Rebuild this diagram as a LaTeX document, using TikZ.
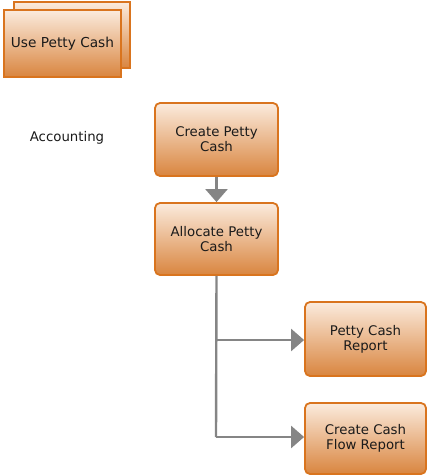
\documentclass[tikz,border=0pt]{standalone}
\usepackage{fontspec}
\setmainfont{DejaVu Sans}
\usetikzlibrary{arrows.meta}
\definecolor{bord}{HTML}{D9741E}
\definecolor{topc}{HTML}{FBEBDD}
\definecolor{botc}{HTML}{D9853F}
\definecolor{linec}{HTML}{858585}
\definecolor{txt}{HTML}{1A1A1A}
\tikzset{
  box/.style={draw=bord, line width=1.8pt, rounded corners=5pt, top color=topc, bottom color=botc, align=center, text=txt, font=\fontsize{13.3}{15}\selectfont, inner sep=0pt},
  flatbox/.style={draw=bord, line width=1.8pt, top color=topc, bottom color=botc, align=center, text=txt, font=\fontsize{13.7}{15}\selectfont, inner sep=0pt},
  conn/.style={draw=linec, line width=2.4pt, -{Triangle[width=22pt,length=13pt]}},
  plain/.style={draw=linec, line width=2.4pt}
}
\begin{document}
\begin{tikzpicture}[x=1pt,y=-1pt]
\useasboundingbox (0,0) rectangle (426,476);
% Use Petty Cash stack
\node[flatbox, minimum width=116pt, minimum height=66pt] (back) at (72,35) {};
\node[flatbox, minimum width=117pt, minimum height=67pt] (use) at (62.5,43.5) {Use Petty Cash};
\node[font=\fontsize{13.3}{15}\selectfont, text=txt] (acc) at (67,138) {Accounting};
\node[box, minimum width=123pt, minimum height=73pt] (create) at (216.5,139.5) {Create Petty\\Cash};
\node[box, minimum width=123pt, minimum height=72pt] (alloc) at (216.5,239) {Allocate Petty\\Cash};
\node[box, minimum width=121pt, minimum height=74pt] (report) at (365.5,339) {Petty Cash\\Report};
\node[box, minimum width=121pt, minimum height=71pt] (flow) at (365.5,438.5) {Create Cash\\Flow Report};
\coordinate (j1) at (216,340);
\coordinate (j2) at (216,437);
\draw[conn] (create) -- (alloc);
\draw[plain] (alloc.south) -- (j2);
\draw[conn] (j1) -- (report.west |- j1);
\draw[conn] (j2) -- (flow.west |- j2);
\end{tikzpicture}
\end{document}
